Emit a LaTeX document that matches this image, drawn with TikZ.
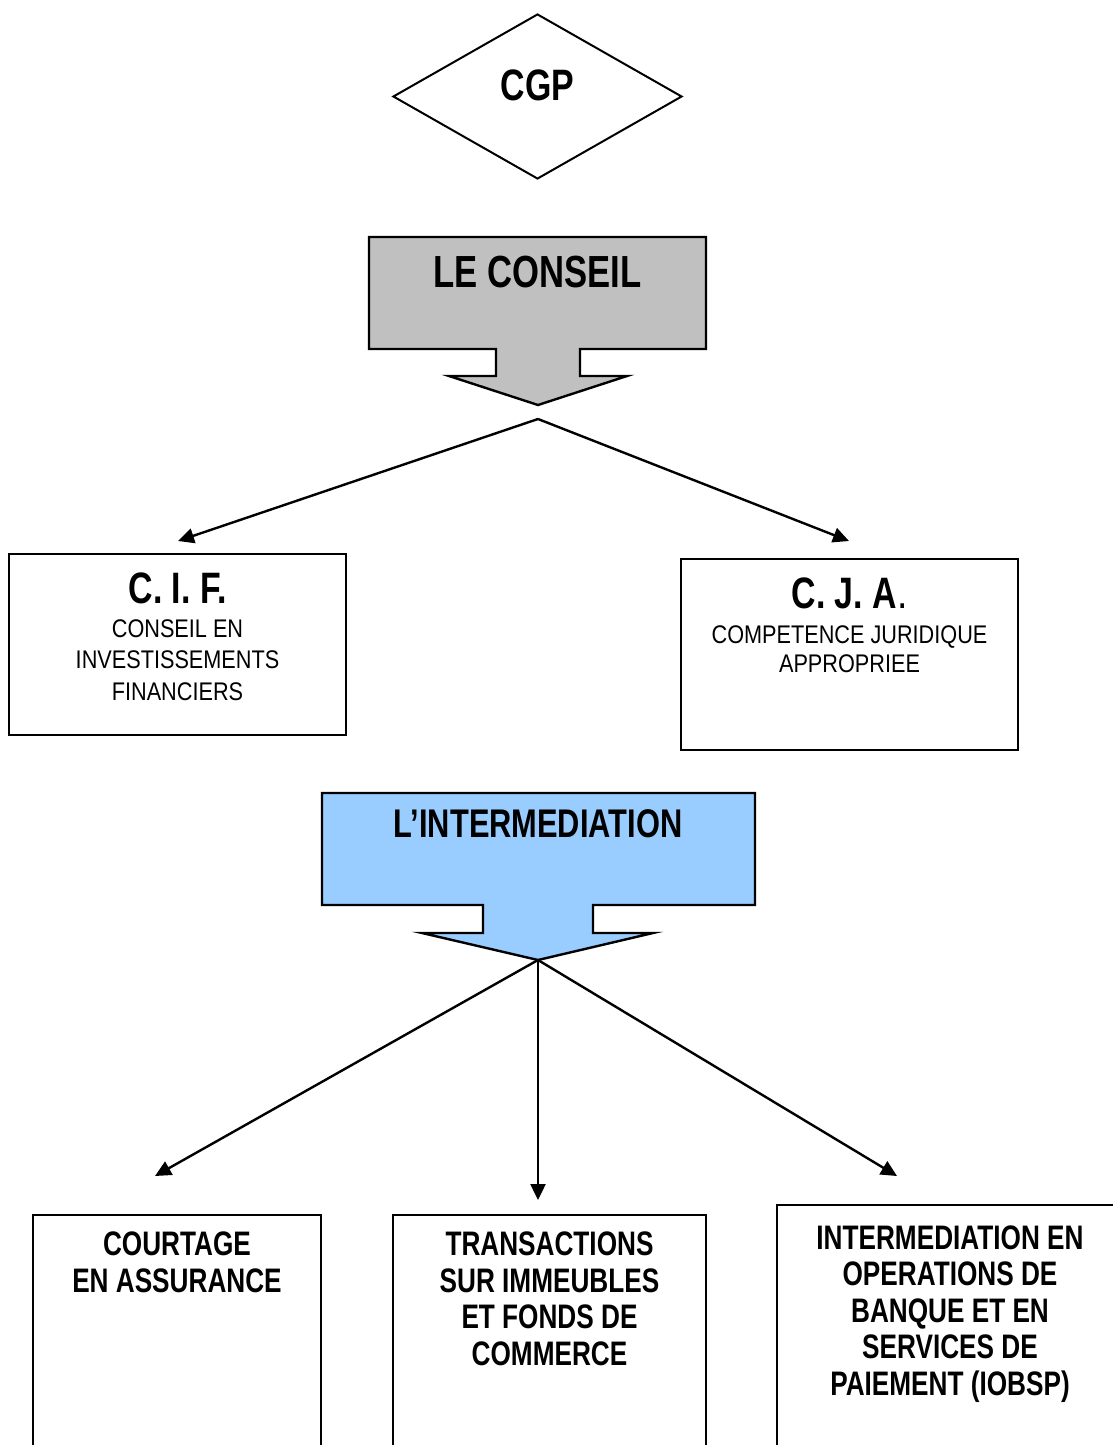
\documentclass[tikz,border=0pt]{standalone}
\usepackage{fontspec}
\newfontfamily\narrowreg{Liberation Sans}[FakeStretch=0.85]
\newfontfamily\narrowbf{Liberation Sans}[FakeStretch=0.77]
\usetikzlibrary{arrows.meta, shapes.geometric}
\definecolor{conseilgray}{HTML}{C0C0C0}
\definecolor{interblue}{HTML}{99CCFF}
\tikzset{
	framebox/.style={draw, line width=2.4pt, rectangle, inner sep=0pt},
	headtext/.style={font=\narrowbf\bfseries\fontsize{44}{44}\selectfont, inner sep=0pt, anchor=base},
	subtext/.style={font=\narrowreg\fontsize{25.5}{31.5}\selectfont, inner sep=0pt, anchor=base, align=center},
	bottext/.style={font=\narrowbf\bfseries\fontsize{34}{36.5}\selectfont, inner sep=0pt, anchor=base, align=center},
	conn/.style={line width=2.4pt, -{Triangle[length=16pt,width=15pt]}}
}

\begin{document}
\begin{tikzpicture}[x=1pt, y=-1pt, line join=miter]
	\useasboundingbox (0,0) rectangle (1113,1445);
	\clip (0,0) rectangle (1113,1445);
	% CGP
	\node[draw, line width=2pt, diamond, minimum width=289pt, minimum height=165pt, inner sep=0pt] (cgp) at (537.5,96.5) {};
	\node[headtext] (cgplabel) at (537.5,100) {CGP};
	% le conseil
	\draw[line width=2.4pt, fill=conseilgray] (369,237) -- (706,237) -- (706,349) -- (580,349) -- (580,376) -- (627,376) -- (538,405) -- (449,376) -- (496,376) -- (496,349) -- (369,349) -- cycle;
	\node[headtext, font=\narrowbf\bfseries\fontsize{45}{45}\selectfont] (conseil) at (537.5,287) {LE CONSEIL};
	\coordinate (conseilfoot) at (538,419);
	\coordinate (cifend) at (178,541);
	\coordinate (cjaend) at (849,541);
	\draw[conn] (conseilfoot) -- (cifend);
	\draw[conn] (conseilfoot) -- (cjaend);
	\node[framebox, minimum width=337pt, minimum height=181pt] (cif) at (177.5,644.5) {};
	\node[headtext] (cifhead) at (177.5,603) {C. I. F.};
	\node[subtext] (ciftext) at (177.5,700) {CONSEIL EN\\INVESTISSEMENTS\\FINANCIERS};
	\node[framebox, minimum width=337pt, minimum height=191pt] (cja) at (849.5,654.5) {};
	\node[headtext] (cjahead) at (849.5,608) {C. J. A{\narrowreg\mdseries .}};
	\node[subtext, font=\narrowreg\fontsize{25.5}{28.5}\selectfont] (cjatext) at (849.5,672) {COMPETENCE JURIDIQUE\\APPROPRIEE};
	% l'intermediation
	\draw[line width=2.4pt, fill=interblue] (322,793) -- (755,793) -- (755,905) -- (593,905) -- (593,933) -- (653,933) -- (538,960) -- (422,933) -- (483,933) -- (483,905) -- (322,905) -- cycle;
	\node[headtext, font=\narrowbf\bfseries\fontsize{40}{40}\selectfont] (inter) at (538,837) {L’INTERMEDIATION};
	\coordinate (interfoot) at (538,960);
	\coordinate (courtend) at (155,1176);
	\coordinate (transend) at (538,1200);
	\coordinate (iobspend) at (897,1176);
	\draw[conn] (interfoot) -- (courtend);
	\draw[conn] (interfoot) -- (transend);
	\draw[conn] (interfoot) -- (iobspend);
	\node[framebox, minimum width=288pt, minimum height=255pt] (courtage) at (177,1342.5) {};
	\node[bottext] (courttext) at (177,1292) {COURTAGE\\EN ASSURANCE};
	\node[framebox, minimum width=313pt, minimum height=255pt] (transac) at (549.5,1342.5) {};
	\node[bottext] (transtext) at (549.5,1365) {TRANSACTIONS\\SUR IMMEUBLES\\ET FONDS DE\\COMMERCE};
	\node[framebox, minimum width=348pt, minimum height=265pt] (iobsp) at (951,1337.5) {};
	\node[bottext] (iobsptext) at (950,1395) {INTERMEDIATION EN\\OPERATIONS DE\\BANQUE ET EN\\SERVICES DE\\PAIEMENT (IOBSP)};
\end{tikzpicture}
\end{document}
